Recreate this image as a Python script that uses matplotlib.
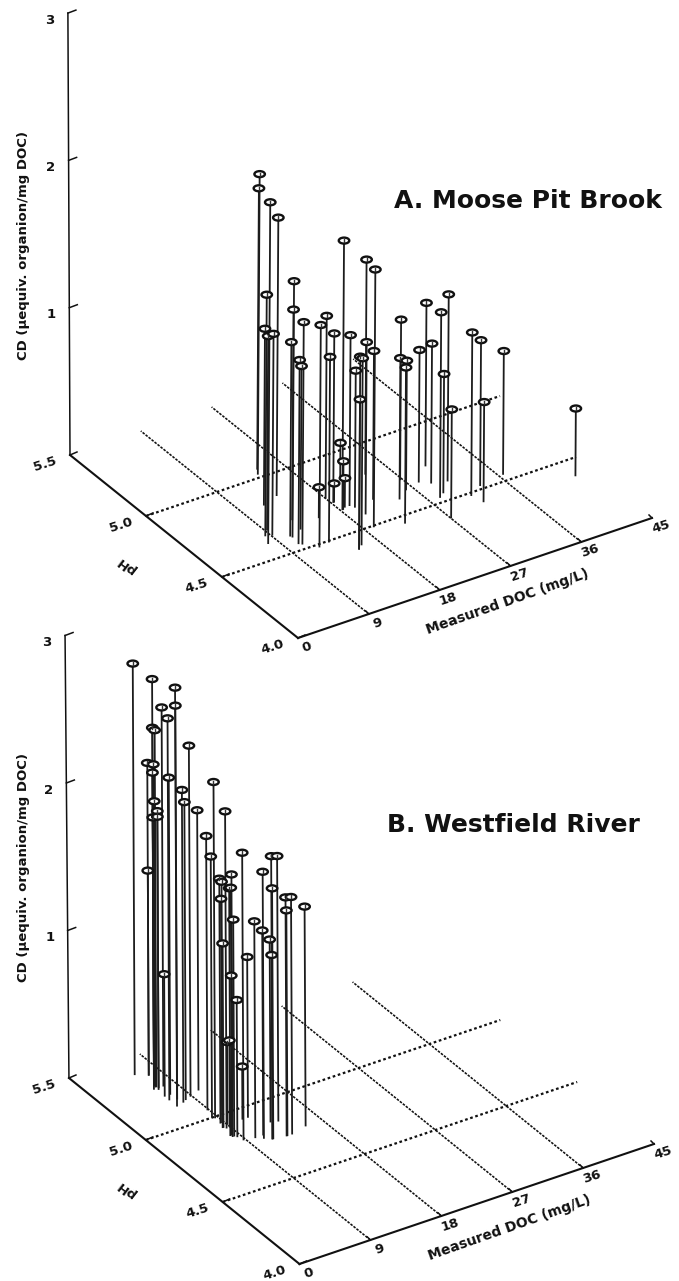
#!/usr/bin/env python3
"""Oblique 3D stem plots of charge density vs DOC and pH, two sites"""

import matplotlib
matplotlib.use('Agg')
import matplotlib.pyplot as plt
from matplotlib.patches import Ellipse

plt.rcParams['font.family'] = ['DejaVu Sans']

# Moose Pit Brook
moose_doc = [14.6, 15.1, 7.8, 13.9, 10.7, 8.4, 12.6, 10.8, 11.7, 9.2, 9.1, 10.6, 10.5, 12.3, 12.0, 18.0,
             18.2, 13.4, 18.2, 19.3, 19.6, 15.3, 16.0, 15.3, 24.2, 19.8, 19.1, 22.1, 26.7, 24.5, 26.1, 22.3,
             21.4, 18.3, 18.7, 18.3, 15.2, 30.5, 30.8, 29.1, 28.1, 28.3, 29.1, 31.3, 33.2, 36.5, 31.7, 27.0, 42.8]
moose_ph = [5.02, 5.05, 4.60, 4.86, 4.59, 4.65, 4.69, 4.53, 4.83, 4.68, 4.64, 4.60, 4.54, 4.62, 4.48, 4.75,
            4.71, 4.49, 4.65, 4.66, 4.64, 4.39, 4.41, 4.39, 4.81, 4.58, 4.49, 4.65, 4.71, 4.60, 4.64, 4.45,
            4.83, 4.65, 4.66, 4.71, 4.65, 4.74, 4.61, 4.63, 4.66, 4.53, 4.55, 4.48, 4.52, 4.54, 4.42, 4.39, 4.39]
moose_cd = [2.04, 1.91, 2.32, 1.89, 1.74, 1.64, 1.43, 1.51, 1.20, 1.32, 1.37, 1.32, 1.25, 1.11, 1.51, 1.24,
            1.15, 1.26, 1.83, 1.16, 0.93, 1.31, 1.27, 1.02, 1.46, 1.17, 1.75, 1.01, 1.09, 0.96, 0.88, 1.06,
            0.25, 0.33, 0.20, 0.13, 0.21, 1.11, 1.27, 0.95, 0.90, 1.26, 0.81, 1.11, 0.99, 0.84, 0.68, 0.74, 0.46]

# Westfield River
west_doc = [6.2, 6.7, 6.5, 7.5, 7.3, 6.5, 6.7, 6.8, 8.8, 7.4, 6.8, 6.3, 7.2, 8.6, 7.5, 8.0, 6.7, 10.2, 8.5,
            6.7, 6.9, 6.9, 8.8, 8.4, 8.7, 11.4, 13.9, 10.7, 7.4, 8.1, 8.5, 8.2, 8.0, 8.2, 11.5, 8.7, 13.0,
            13.7, 13.1, 15.8, 8.3, 10.0, 11.0, 13.1, 8.3, 11.4, 11.6, 6.5, 8.6, 8.5, 9.0, 8.9, 10.9]
west_ph = [5.39, 5.29, 5.13, 5.27, 5.17, 5.18, 5.29, 5.28, 5.16, 5.36, 5.29, 5.27, 5.21, 4.99, 5.14, 5.15, 5.28,
           5.18, 4.91, 5.26, 5.30, 5.27, 5.05, 5.00, 4.81, 4.76, 4.85, 4.78, 5.36, 4.85, 4.95, 4.92, 4.86, 4.86,
           4.76, 4.95, 4.75, 4.75, 4.75, 4.77, 4.85, 4.80, 4.80, 4.86, 4.92, 4.76, 4.93, 5.21, 4.88, 4.84, 4.93,
           4.91, 4.93]
west_cd = [2.79, 2.76, 2.84, 2.57, 2.67, 2.59, 2.43, 2.42, 2.38, 2.12, 2.18, 2.15, 2.15, 2.28, 2.12, 2.02, 1.94,
           1.90, 2.15, 1.89, 1.81, 1.84, 1.86, 1.77, 1.95, 1.92, 1.80, 1.81, 1.39, 1.78, 1.66, 1.67, 1.68, 1.68,
           1.70, 1.52, 1.62, 1.61, 1.53, 1.49, 1.47, 1.47, 1.39, 1.24, 1.25, 1.25, 1.09, 0.83, 1.06, 0.93, 0.56,
           0.59, 0.36]

doc_ticks = [0, 9, 18, 27, 36, 45]
ph_ticks = [4.0, 4.5, 5.0, 5.5]
cd_ticks = [1, 2, 3]


def draw_panel(ax, title, title_xy, doc, ph, cd, origin, doc_vec, ph_vec, cd_px, stem_lean, axis_lean):
    x0, y0 = origin

    def floor(d, p):
        return (x0 + d * doc_vec[0] + (p - 4.0) * ph_vec[0],
                y0 + d * doc_vec[1] + (p - 4.0) * ph_vec[1])

    # grid on the floor
    for d in doc_ticks[1:-1]:
        a, b = floor(d, 4.0), floor(d, 5.5)
        ax.plot([a[0], b[0]], [a[1], b[1]], color='#111111', lw=1.15, dashes=(1.6, 0.8), zorder=1)
    for p in ph_ticks[1:-1]:
        a, b = floor(0, p), floor(45, p)
        ax.plot([a[0], b[0]], [a[1], b[1]], color='#111111', lw=1.6, dashes=(1.2, 1.2), zorder=1)

    # axes
    a, b = floor(0, 4.0), floor(45, 4.0)
    ax.plot([a[0], b[0]], [a[1], b[1]], color='#111111', lw=1.5, zorder=2)
    c = floor(0, 5.5)
    ax.plot([a[0], c[0]], [a[1], c[1]], color='#111111', lw=1.5, zorder=2)
    ax.plot([c[0], c[0] + 3 * axis_lean], [c[1], c[1] - 3 * cd_px], color='#111111', lw=1.1, zorder=2)

    # ticks and tick labels
    for d in doc_ticks:
        t = floor(d, 4.0)
        if d > 0:
            ax.plot([t[0], t[0] - 3], [t[1], t[1] - 3], color='#111111', lw=1.1, zorder=2)
        ax.text(t[0] + 9, t[1] + 9, str(d), fontsize=9.5, fontweight='bold', rotation=18,
                ha='center', va='center', color='#111111')
    for p in ph_ticks:
        t = floor(0, p)
        ax.plot([t[0], t[0] + 7], [t[1], t[1] - 3], color='#111111', lw=1.1, zorder=2)
        ax.text(t[0] - 25, t[1] + 9, '%.1f' % p, fontsize=9.5, fontweight='bold', rotation=18,
                ha='center', va='center', color='#111111')
    for v in cd_ticks:
        tx, ty = c[0] + v * axis_lean, c[1] - v * cd_px
        ax.plot([tx, tx + 8], [ty, ty - 3], color='#111111', lw=1.1, zorder=2)
        ax.text(tx - 18, ty + 7, str(v), fontsize=9.5, fontweight='bold',
                ha='center', va='center', color='#111111')

    # axis titles
    m = floor(27, 4.0)
    ax.text(m[0] - 3, m[1] + 36, 'Measured DOC (mg/L)', fontsize=10, fontweight='bold', rotation=19.5,
            ha='center', va='center', color='#111111')
    m = floor(0, 4.75)
    ax.text(m[0] - 58, m[1] + 18, 'pH', fontsize=9.5, fontweight='bold', rotation=142,
            ha='center', va='center', color='#111111')
    ax.text(24, c[1] - 210, 'CD (\u03bcequiv. organion/mg DOC)', fontsize=9.5, fontweight='bold', rotation=90,
            ha='center', va='center', color='#111111')
    ax.text(title_xy[0], title_xy[1], title, fontsize=18, fontweight='bold', ha='left', va='center',
            color='#111111')

    # stems, then heads on top
    for d, p, v in zip(doc, ph, cd):
        bx, by = floor(d, p)
        tx, ty = bx + v * stem_lean, by - v * cd_px
        ax.plot([bx, tx], [by, ty], color='#1c1c1c', lw=1.3, solid_capstyle='butt', zorder=3)
    for d, p, v in zip(doc, ph, cd):
        bx, by = floor(d, p)
        tx, ty = bx + v * stem_lean, by - v * cd_px
        ax.add_patch(Ellipse((tx, ty), 10.5, 6, facecolor='white', edgecolor='#111111', lw=1.7, zorder=4))
        ax.plot([tx, tx], [ty - 1.5, ty + 1.5], color='#333333', lw=1.0, zorder=5)


def main():
    fig = plt.figure(figsize=(6.79, 12.81), dpi=100)
    ax = fig.add_axes([0, 0, 1, 1])
    ax.set_xlim(0, 679)
    ax.set_ylim(1281, 0)
    ax.axis('off')

    draw_panel(ax, 'A. Moose Pit Brook', (394, 201), moose_doc, moose_ph, moose_cd,
               (298, 638), (7.867, -2.667), (-152, -122), 147.3, 0.9, -0.7)
    draw_panel(ax, 'B. Westfield River', (387, 825), west_doc, west_ph, west_cd,
               (299.5, 1264), (7.878, -2.667), (-153.7, -124), 147.5, -0.7, -1.3)

    fig.savefig('out.png', dpi=100, facecolor='white')
    plt.close(fig)


if __name__ == '__main__':
    main()
